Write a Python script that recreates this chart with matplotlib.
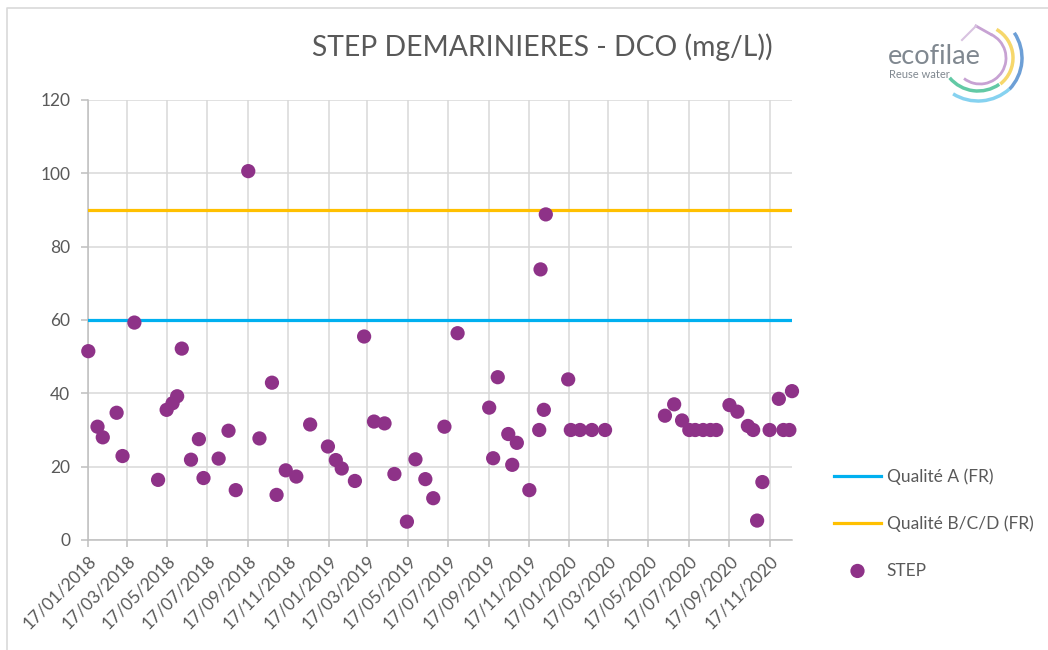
import matplotlib
matplotlib.use("Agg")
import matplotlib.pyplot as plt
from matplotlib.patches import Arc
import numpy as np
import datetime as dt

plt.rcParams['font.family'] = ['Lato', 'DejaVu Sans']

title = "STEP DEMARINIERES - DCO (mg/L))"

step_dates = [
    "2018-01-17", "2018-01-31", "2018-02-08", "2018-03-01", "2018-03-10", "2018-03-28",
    "2018-05-03", "2018-05-16", "2018-05-25", "2018-06-01", "2018-06-08", "2018-06-22",
    "2018-07-04", "2018-07-11", "2018-08-03", "2018-08-18", "2018-08-29", "2018-09-17",
    "2018-10-04", "2018-10-23", "2018-10-30", "2018-11-13", "2018-11-29", "2018-12-20",
    "2019-01-16", "2019-01-28", "2019-02-06", "2019-02-26", "2019-03-12", "2019-03-27",
    "2019-04-12", "2019-04-27", "2019-05-16", "2019-05-29", "2019-06-13", "2019-06-25",
    "2019-07-12", "2019-08-01", "2019-09-18", "2019-09-24", "2019-10-01", "2019-10-17",
    "2019-10-23", "2019-10-30", "2019-11-18", "2019-12-03", "2019-12-05", "2019-12-10",
    "2019-12-13", "2020-01-16", "2020-01-20", "2020-02-03", "2020-02-21", "2020-03-12",
    "2020-06-11", "2020-06-25", "2020-07-07", "2020-07-18", "2020-07-27", "2020-08-08",
    "2020-08-19", "2020-08-28", "2020-09-17", "2020-09-29", "2020-10-15", "2020-10-23",
    "2020-10-29", "2020-11-06", "2020-11-17", "2020-12-01", "2020-12-08", "2020-12-17",
    "2020-12-21",
]
step_values = [
    51.5, 30.9, 28.0, 34.7, 22.9, 59.3,
    16.4, 35.5, 37.3, 39.2, 52.2, 21.9,
    27.5, 16.9, 22.2, 29.8, 13.6, 100.6,
    27.7, 42.9, 12.3, 19.0, 17.3, 31.5,
    25.5, 21.8, 19.5, 16.1, 55.5, 32.3,
    31.8, 18.0, 5.0, 22.0, 16.6, 11.4,
    30.9, 56.4, 36.1, 22.3, 44.4, 28.9,
    20.5, 26.5, 13.6, 30.0, 73.8, 35.5,
    88.8, 43.8, 30.0, 30.0, 30.0, 30.0,
    33.9, 37.0, 32.6, 30.0, 30.0, 30.0,
    30.0, 30.0, 36.8, 35.0, 31.1, 30.0,
    5.3, 15.8, 30.0, 38.5, 30.0, 30.0,
    40.6,
]

qualite_a = 60
qualite_bcd = 90

tick_dates = [
    "2018-01-17", "2018-03-17", "2018-05-17", "2018-07-17", "2018-09-17", "2018-11-17",
    "2019-01-17", "2019-03-17", "2019-05-17", "2019-07-17", "2019-09-17", "2019-11-17",
    "2020-01-17", "2020-03-17", "2020-05-17", "2020-07-17", "2020-09-17", "2020-11-17",
]
tick_labels = [dt.date.fromisoformat(d).strftime("%d/%m/%Y") for d in tick_dates]
y_ticks = [0, 20, 40, 60, 80, 100, 120]

x = [dt.date.fromisoformat(d) for d in step_dates]
xt = [dt.date.fromisoformat(d) for d in tick_dates]

W, H = 1048, 650
fig = plt.figure(figsize=(W / 100, H / 100), dpi=100)
fig.patch.set_facecolor("white")

def fx(px):
    return px / W

def fy(py):
    return 1 - py / H

ax = fig.add_axes([fx(88.3), fy(540), fx(792) - fx(88.3), fy(100) - fy(540)])
ax.set_facecolor("white")

grid_c = "#d9d9d9"
text_c = "#595959"
blue = "#00B0F0"
orange = "#FFC000"
purple = "#8E3288"

ax.axhline(qualite_a, color=blue, lw=2.3, label="Qualité A (FR)", zorder=3)
ax.axhline(qualite_bcd, color=orange, lw=2.3, label="Qualité B/C/D (FR)", zorder=3)
ax.scatter(x, step_values, s=105, color=purple, edgecolors="none", label="STEP",
           zorder=4, clip_on=False)

ax.set_xlim(dt.date(2018, 1, 17), dt.date(2020, 12, 21))
ax.set_ylim(0, 120)
ax.set_yticks(y_ticks)
ax.set_xticks(xt)
ax.set_xticklabels(tick_labels, rotation=45, ha="right", rotation_mode="anchor")
ax.grid(True, color=grid_c, lw=1.1, zorder=0)
ax.set_axisbelow(True)
for side in ["top", "right"]:
    ax.spines[side].set_visible(False)
for side in ["left", "bottom"]:
    ax.spines[side].set_color("#bfbfbf")
    ax.spines[side].set_linewidth(1.1)
ax.tick_params(axis="both", colors="#bfbfbf", labelcolor=text_c, length=5, width=1.1)
ax.tick_params(axis="y", labelsize=12.5, pad=8)
ax.tick_params(axis="x", labelsize=12.5, pad=4)

fig.text(fx(312), fy(47), title, fontsize=20.3, color=text_c, ha="left", va="center")

fig.legend(loc="upper left", bbox_to_anchor=(fx(818), fy(453)), frameon=False,
           fontsize=12.5, labelcolor=text_c, handlelength=2.75, handletextpad=0.3,
           labelspacing=1.75, scatterpoints=1)

# overlay for border and logo
ov = fig.add_axes([0, 0, 1, 1], facecolor="none")
ov.set_xlim(0, W)
ov.set_ylim(H, 0)
ov.axis("off")
ov.plot([7, 7, W + 5], [H + 5, 8, 8], color="#d9d9d9", lw=1.2)

# logo
ov.text(888, 57, "ecofilae", fontsize=19.5, color="#808890", ha="left", va="center")
ov.text(889, 74, "Reuse water", fontsize=8, color="#808890", ha="left", va="center")
cx, cy = 980, 58
ov.add_patch(Arc((cx, cy), 52, 52, theta1=-65, theta2=128, color="#c7a2d3", lw=2))
ov.plot([976, cx + 26 * np.cos(np.radians(-65))], [26, cy + 26 * np.sin(np.radians(-65))],
        color="#c7a2d3", lw=2)
ov.plot([976, 962], [26, 40], color="#d8c2e0", lw=1.5)
ov.add_patch(Arc((cx, cy), 66, 66, theta1=-60, theta2=52, color="#f6d76b", lw=2.5))
ov.add_patch(Arc((cx - 3, cy), 90, 90, theta1=-34, theta2=44, color="#6d9fd6", lw=2.5))
ov.add_patch(Arc((cx - 2, cy - 4), 74, 74, theta1=55, theta2=140, color="#62c9a5", lw=2.5))
ov.add_patch(Arc((cx - 2, cy - 4), 94, 94, theta1=48, theta2=122, color="#86d2f0", lw=2.5))

fig.savefig("out.png", dpi=100, facecolor="white")
